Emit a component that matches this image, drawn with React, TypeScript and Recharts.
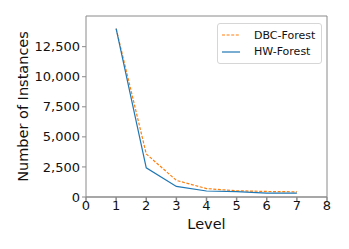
import React from 'react'
import { LineChart, Line, XAxis, YAxis, ReferenceLine } from 'recharts'

const levels = [1, 2, 3, 4, 5, 6, 7]
const dbcForest = [14000, 3580, 1380, 700, 520, 460, 430]
const hwForest = [14000, 2430, 880, 500, 450, 330, 320]
const xTicks = [0, 1, 2, 3, 4, 5, 6, 7, 8]
const yTicks = [0, 2500, 5000, 7500, 10000, 12500]
const xMax = 8
const yMax = 15050

const data = levels.map((l, i) => ({ level: l, dbc: dbcForest[i], hw: hwForest[i] }))

const font = '"DejaVu Sans", sans-serif'
const axisColor = '#8a8a8a'

const series = [
  { key: 'dbc', name: 'DBC-Forest', color: '#ff7f0e', dash: '3 1.6' },
  { key: 'hw', name: 'HW-Forest', color: '#1f77b4', dash: undefined },
]

function LegendBox() {
  return (
    <div style={{
      position: 'absolute', left: 217, top: 23,
      border: '1px solid #d6d6d6', borderRadius: 3, background: '#fff',
      padding: '3px 6px 3px 4px', fontFamily: font, fontSize: 11, color: '#111',
    }}>
      {series.map(r => (
        <div key={r.name} style={{ display: 'flex', alignItems: 'center', height: 16.5 }}>
          <svg width={18} height={4} style={{ marginRight: 14 }}>
            <line x1={0} y1={2} x2={18} y2={2} stroke={r.color} strokeWidth={1.2} strokeDasharray={r.dash} />
          </svg>
          <span>{r.name}</span>
        </div>
      ))}
    </div>
  )
}

export default function App() {
  return (
    <div style={{ position: 'absolute', left: 0, top: 0, width: 349, height: 249, background: '#fff' }}>
      <LineChart width={349} height={249} data={data} margin={{ top: 16, right: 22, bottom: 12, left: 0 }}>
        <XAxis
          dataKey="level" type="number" domain={[0, xMax]} ticks={xTicks} interval={0}
          height={40} tickSize={4} tickMargin={0}
          stroke={axisColor} strokeWidth={1.5}
          tick={{ fill: '#111', fontSize: 13, fontFamily: font }}
          label={{ value: 'Level', position: 'insideBottom', offset: 8, fill: '#111', fontSize: 14.5, fontFamily: font }}
        />
        <YAxis
          type="number" domain={[0, yMax]} ticks={yTicks} interval={0}
          width={86} tickSize={4} tickMargin={2}
          stroke={axisColor}
          tickFormatter={(v: number) => v.toLocaleString('en-US')}
          tick={{ fill: '#111', fontSize: 13, fontFamily: font }}
          label={{
            value: 'Number of Instances', angle: -90, position: 'insideLeft', offset: 23,
            fill: '#111', fontSize: 14.5, fontFamily: font, style: { textAnchor: 'middle' },
          }}
        />
        <ReferenceLine y={yMax} stroke={axisColor} strokeWidth={1} />
        <ReferenceLine x={xMax} stroke={axisColor} strokeWidth={1} />
        {series.map(s => (
          <Line key={s.key} dataKey={s.key} name={s.name} stroke={s.color} strokeWidth={1.2}
            strokeDasharray={s.dash} dot={false} isAnimationActive={false} />
        ))}
      </LineChart>
      <LegendBox />
    </div>
  )
}
